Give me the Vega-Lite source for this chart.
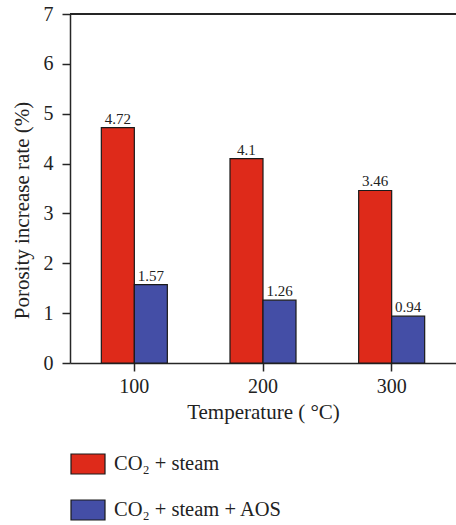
{
  "$schema": "https://vega.github.io/schema/vega-lite/v6.json",
  "width": 386,
  "height": 349,
  "autosize": {"type": "none"},
  "padding": {"left": 70, "top": 14, "right": 0, "bottom": 162},
  "background": "white",
  "config": {
    "font": "Liberation Serif",
    "view": {"stroke": null},
    "axis": {
      "grid": false,
      "domainColor": "#262626",
      "domainWidth": 1.5,
      "tickColor": "#262626",
      "tickWidth": 1.5,
      "tickSize": 8,
      "labelFont": "Liberation Serif",
      "labelFontSize": 20,
      "labelColor": "#222222",
      "titleFont": "Liberation Serif",
      "titleFontSize": 21,
      "titleFontWeight": "normal",
      "titleColor": "#222222"
    }
  },
  "data": {
    "values": [
      {"temp": "100", "series": "CO₂ + steam", "value": 4.72},
      {"temp": "100", "series": "CO₂ + steam + AOS", "value": 1.57},
      {"temp": "200", "series": "CO₂ + steam", "value": 4.1},
      {"temp": "200", "series": "CO₂ + steam + AOS", "value": 1.26},
      {"temp": "300", "series": "CO₂ + steam", "value": 3.46},
      {"temp": "300", "series": "CO₂ + steam + AOS", "value": 0.94}
    ]
  },
  "encoding": {
    "x": {
      "field": "temp",
      "type": "nominal",
      "scale": {"paddingInner": 0.487, "paddingOuter": 0.2435},
      "axis": {
        "labelAngle": 0,
        "labelPadding": 5,
        "title": "Temperature ( °C)",
        "titleBaseline": "alphabetic",
        "titleY": 55
      }
    },
    "xOffset": {
      "field": "series",
      "type": "nominal",
      "sort": ["CO₂ + steam", "CO₂ + steam + AOS"]
    },
    "y": {
      "field": "value",
      "type": "quantitative",
      "scale": {"domain": [0, 7], "nice": false},
      "axis": {
        "values": [0, 1, 2, 3, 4, 5, 6, 7],
        "labelPadding": 9,
        "title": "Porosity increase rate (%)",
        "titleAngle": -90,
        "titleBaseline": "alphabetic",
        "titleAlign": "center",
        "titleX": -42,
        "titleY": 196
      }
    }
  },
  "layer": [
    {
      "mark": {"type": "bar", "stroke": "#1a1a1a", "strokeWidth": 1.2},
      "encoding": {
        "color": {
          "field": "series",
          "type": "nominal",
          "sort": ["CO₂ + steam", "CO₂ + steam + AOS"],
          "scale": {"domain": ["CO₂ + steam", "CO₂ + steam + AOS"], "range": ["#DE2A1A", "#444EA6"]},
          "legend": {
            "title": null,
            "orient": "none",
            "legendX": 0,
            "legendY": 432,
            "direction": "vertical",
            "padding": 0,
            "rowPadding": 15,
            "symbolType": "M-1,-0.588H1V0.588H-1Z",
            "symbolSize": 1156,
            "symbolStrokeColor": "#1a1a1a",
            "symbolStrokeWidth": 1.2,
            "symbolOpacity": 1,
            "labelFont": "Liberation Serif",
            "labelFontSize": 20.5,
            "labelColor": "#222222",
            "labelOffset": 8,
            "labelLimit": 400
          }
        }
      }
    },
    {
      "mark": {"type": "text", "baseline": "alphabetic", "dy": -4, "fontSize": 15, "font": "Liberation Serif", "color": "#222222"},
      "encoding": {
        "text": {"field": "value", "type": "quantitative"}
      }
    },
    {
      "mark": {"type": "rule", "color": "#262626", "strokeWidth": 1.5},
      "encoding": {"y": {"datum": 7}, "xOffset": {"value": 0}, "x": {"value": 0}, "x2": {"value": 386}}
    }
  ]
}
